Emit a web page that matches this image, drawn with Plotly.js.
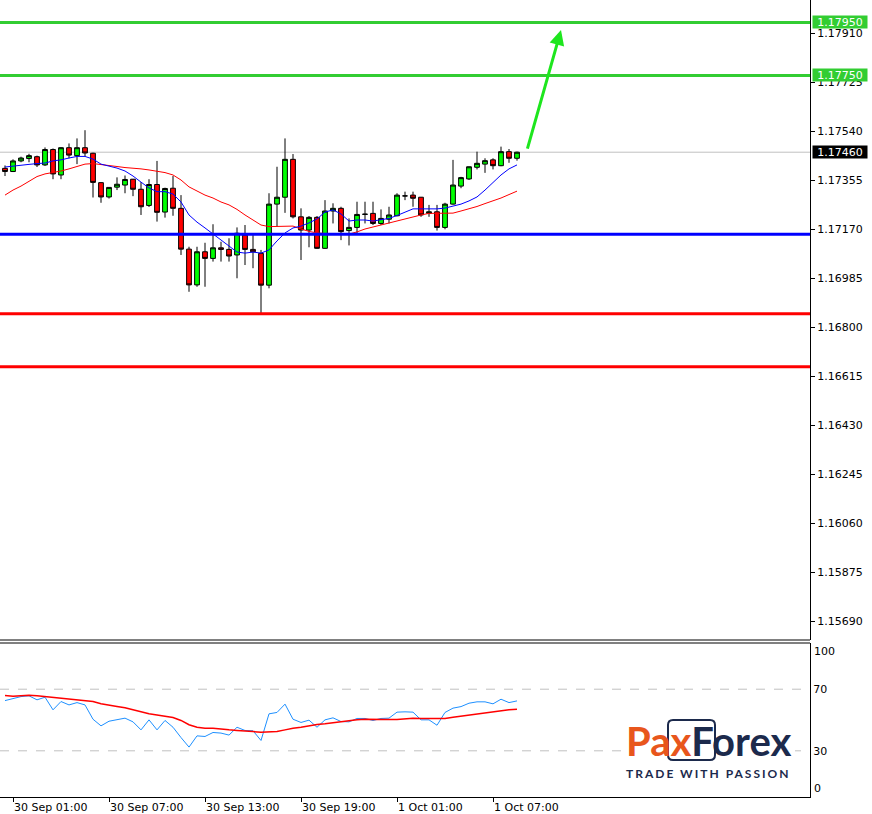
<!DOCTYPE html>
<html><head><meta charset="utf-8">
<script src="https://cdn.plot.ly/plotly-3.0.1.min.js"></script>
<style>html,body{margin:0;padding:0;background:#fff;overflow:hidden}#chart{width:872px;height:814px}</style>
</head><body><div id="chart"></div>
<script>
// ---- EURUSD M30 candles (30 Sep 00:30 .. 1 Oct 08:30) ----
const open = [
1.17399,1.17387,1.17427,1.17436,1.17443,1.17412,1.17470,1.17374,1.17477,1.17447,
1.17477,1.17456,1.17345,1.17291,1.17328,1.17336,1.17358,1.17320,1.17259,1.17338,
1.17234,1.17324,1.17248,1.17094,1.16959,1.17084,1.17059,1.17099,1.17093,1.17072,
1.17147,1.17093,1.17078,1.16958,1.17264,1.17290,1.17433,1.17216,1.17166,1.17214,
1.17097,1.17238,1.17248,1.17164,1.17176,1.17225,1.17229,1.17191,1.17207,1.17220,
1.17295,1.17298,1.17290,1.17229,1.17235,1.17176,1.17264,1.17332,1.17359,1.17403,
1.17415,1.17431,1.17409,1.17462,1.17437];
const high = [
1.17410,1.17433,1.17443,1.17454,1.17447,1.17478,1.17474,1.17479,1.17493,1.17512,
1.17543,1.17458,1.17347,1.17328,1.17365,1.17372,1.17359,1.17347,1.17358,1.17427,
1.17326,1.17370,1.17298,1.17103,1.17103,1.17118,1.17188,1.17122,1.17135,1.17176,
1.17185,1.17150,1.17091,1.17305,1.17405,1.17512,1.17453,1.17248,1.17219,1.17219,
1.17279,1.17267,1.17254,1.17210,1.17273,1.17273,1.17273,1.17244,1.17254,1.17305,
1.17311,1.17311,1.17291,1.17261,1.17261,1.17269,1.17431,1.17367,1.17406,1.17462,
1.17437,1.17437,1.17481,1.17472,1.17462];
const low = [
1.17370,1.17385,1.17422,1.17422,1.17404,1.17408,1.17358,1.17358,1.17437,1.17415,
1.17444,1.17289,1.17269,1.17285,1.17317,1.17305,1.17294,1.17223,1.17253,1.17198,
1.17213,1.17220,1.17072,1.16933,1.16952,1.16952,1.17047,1.17047,1.17047,1.16984,
1.17034,1.17022,1.16849,1.16946,1.17179,1.17231,1.17210,1.17053,1.17101,1.17095,
1.17095,1.17191,1.17128,1.17108,1.17154,1.17191,1.17185,1.17185,1.17191,1.17218,
1.17279,1.17254,1.17216,1.17216,1.17164,1.17169,1.17262,1.17324,1.17355,1.17395,
1.17382,1.17395,1.17407,1.17420,1.17428];
const close = [
1.17387,1.17427,1.17438,1.17447,1.17412,1.17470,1.17378,1.17477,1.17449,1.17477,
1.17457,1.17346,1.17291,1.17327,1.17339,1.17357,1.17320,1.17254,1.17338,1.17233,
1.17323,1.17248,1.17094,1.16959,1.17084,1.17059,1.17099,1.17093,1.17068,1.17154,
1.17093,1.17084,1.16958,1.17264,1.17290,1.17433,1.17216,1.17166,1.17214,1.17097,
1.17238,1.17248,1.17160,1.17176,1.17225,1.17226,1.17191,1.17210,1.17223,1.17298,
1.17295,1.17286,1.17223,1.17235,1.17176,1.17264,1.17336,1.17364,1.17405,1.17418,
1.17428,1.17409,1.17462,1.17437,1.17460];
// fast (blue) and slow (red) moving averages
const maFast = [
1.17404,1.17408,1.17412,1.17414,1.17417,1.17419,1.17427,1.17431,1.17438,1.17444,
1.17444,1.17434,1.17415,1.17408,1.17400,1.17389,1.17370,1.17347,1.17325,1.17311,
1.17311,1.17302,1.17272,1.17223,1.17196,1.17174,1.17151,1.17128,1.17106,1.17083,
1.17079,1.17083,1.17079,1.17091,1.17125,1.17155,1.17174,1.17181,1.17193,1.17208,
1.17234,1.17242,1.17227,1.17200,1.17204,1.17204,1.17200,1.17204,1.17210,1.17221,
1.17234,1.17246,1.17246,1.17246,1.17246,1.17249,1.17257,1.17264,1.17276,1.17291,
1.17317,1.17344,1.17374,1.17397,1.17412];
const maSlow = [
1.17298,1.17317,1.17332,1.17351,1.17368,1.17378,1.17383,1.17389,1.17397,1.17406,
1.17415,1.17417,1.17414,1.17410,1.17406,1.17402,1.17400,1.17397,1.17393,1.17387,
1.17383,1.17374,1.17355,1.17329,1.17313,1.17298,1.17287,1.17272,1.17261,1.17244,
1.17223,1.17204,1.17185,1.17179,1.17179,1.17181,1.17181,1.17170,1.17161,1.17155,
1.17153,1.17151,1.17150,1.17151,1.17159,1.17170,1.17178,1.17185,1.17193,1.17200,
1.17208,1.17215,1.17223,1.17229,1.17230,1.17230,1.17230,1.17238,1.17246,1.17255,
1.17266,1.17276,1.17287,1.17300,1.17313];
// oscillator (lower panel)
const osc = [
62.6,64.1,65.2,65.7,63.1,64.8,56.6,62.0,59.8,61.3,
59.8,50.5,46.2,49.2,50.1,51.2,48.8,43.6,50.1,43.6,
49.7,45.3,38.6,32.4,39.7,39.3,41.9,41.5,40.2,45.3,
43.2,43.0,36.7,54.0,54.9,60.3,50.5,48.4,49.9,45.3,
50.1,51.4,49.0,48.8,51.0,51.0,49.7,51.0,51.2,55.1,
55.3,55.1,50.1,50.1,46.6,54.9,57.7,58.7,60.9,61.8,
61.8,60.5,63.5,61.3,62.4];
const oscSignal = [
65.9,65.4,65.7,66.1,65.7,65.2,64.8,63.9,63.5,63.1,
62.8,62.0,60.5,59.4,58.7,57.9,56.6,54.9,54.0,53.3,
52.5,51.6,49.7,46.9,45.3,44.7,44.7,44.0,43.6,43.2,
43.0,42.5,42.1,42.1,42.5,43.6,44.7,45.3,46.4,47.1,
47.5,48.2,48.8,49.4,50.1,50.5,50.3,50.5,50.3,50.3,
50.7,51.2,51.0,51.0,51.0,51.0,51.8,52.5,53.1,54.0,
54.6,55.5,56.1,56.6,57.0];
const oscLevels = [70, 30];
// horizontal levels
const resistLevels = [1.17950, 1.17750];
const pivotLevels = [1.17150];
const supportLevels = [1.16850, 1.16650];
const lastPrice = 1.17460;
// forecast arrow: [bar index, price] tail and head
const arrowFrom = [65.25, 1.17468];
const arrowTo = [69.5, 1.17921];
// axis ticks
const priceTicks = [1.15690,1.15875,1.16060,1.16245,1.16430,1.16615,1.16800,1.16985,1.17170,1.17355,1.17540,1.17725,1.17910];
const timeTickIdx = [1, 13, 25, 37, 49, 61];
const timeTickText = ['30 Sep 01:00','30 Sep 07:00','30 Sep 13:00','30 Sep 19:00','1 Oct 01:00','1 Oct 07:00'];
const oscTicks = [30, 70];

// ---- layout geometry ----
const PW = 810, PH = 797;
const px = p => p / PW;
const py = p => 1 - p / PH;
const FONT = 'DejaVu Sans';
const xs = open.map((_, i) => i);

const traces = [
  {type:'candlestick', x:xs, open:open, high:high, low:low, close:close, xaxis:'x', yaxis:'y',
   increasing:{line:{color:'#000', width:1}, fillcolor:'#00FF00'},
   decreasing:{line:{color:'#000', width:1}, fillcolor:'#FF0000'},
   whiskerwidth:0, hoverinfo:'skip', showlegend:false},
  {type:'scatter', mode:'lines', x:xs, y:maSlow, line:{color:'#FF0000', width:1}, xaxis:'x', yaxis:'y', hoverinfo:'skip'},
  {type:'scatter', mode:'lines', x:xs, y:maFast, line:{color:'#0000FF', width:1}, xaxis:'x', yaxis:'y', hoverinfo:'skip'},
  {type:'scatter', mode:'lines', x:xs, y:osc, line:{color:'#1E90FF', width:1}, xaxis:'x', yaxis:'y2', hoverinfo:'skip'},
  {type:'scatter', mode:'lines', x:xs, y:oscSignal, line:{color:'#FF0000', width:1.5}, xaxis:'x', yaxis:'y2', hoverinfo:'skip'}
];

const shapes = [];
shapes.push({type:'line', xref:'paper', x0:0, x1:1, yref:'y', y0:lastPrice, y1:lastPrice, line:{color:'#C0C0C0', width:1}, layer:'below'});
resistLevels.forEach(v => shapes.push({type:'line', xref:'paper', x0:0, x1:1, yref:'y', y0:v, y1:v, line:{color:'#32CD32', width:3}, layer:'above'}));
pivotLevels.forEach(v => shapes.push({type:'line', xref:'paper', x0:0, x1:1, yref:'y', y0:v, y1:v, line:{color:'#0000FF', width:3}, layer:'above'}));
supportLevels.forEach(v => shapes.push({type:'line', xref:'paper', x0:0, x1:1, yref:'y', y0:v, y1:v, line:{color:'#FF0000', width:3}, layer:'above'}));
oscLevels.forEach(v => shapes.push({type:'line', xref:'paper', x0:0, x1:1, yref:'y2', y0:v, y1:v, line:{color:'#C0C0C0', width:1, dash:'dash'}, layer:'below'}));
shapes.push({type:'line', xref:'paper', yref:'paper', x0:0, x1:1, y0:py(640), y1:py(640), line:{color:'#000', width:1}});
shapes.push({type:'line', xref:'paper', yref:'paper', x0:0, x1:1, y0:py(643), y1:py(643), line:{color:'#000', width:1}});
shapes.push({type:'rect', xref:'paper', yref:'paper', x0:px(621), x1:px(795), y0:py(786), y1:py(714), fillcolor:'#fff', line:{width:0}, layer:'above'});
(function(){
  const x0=668, x1=715, y0=720, y1=760, r=5;
  const P=(a,b)=>px(a)+','+py(b);
  const path = 'M'+P(x0+r,y0)+' L'+P(x1-r,y0)+' Q'+P(x1,y0)+' '+P(x1,y0+r)+' L'+P(x1,y1-r)+' Q'+P(x1,y1)+' '+P(x1-r,y1)+
    ' L'+P(x0+r,y1)+' Q'+P(x0,y1)+' '+P(x0,y1-r)+' L'+P(x0,y0+r)+' Q'+P(x0,y0)+' '+P(x0+r,y0)+' Z';
  shapes.push({type:'path', xref:'paper', yref:'paper', path:path, line:{color:'#1C2A4C', width:2}, layer:'above'});
})();

const annotations = [];
resistLevels.forEach(v => annotations.push({xref:'paper', x:1, xanchor:'left', xshift:2, yref:'y', y:v, yanchor:'middle',
  text:v.toFixed(5), showarrow:false, bgcolor:'#32CD32', font:{family:FONT, size:11, color:'#fff'}, width:54, height:12, borderpad:0, align:'center'}));
annotations.push({xref:'paper', x:1, xanchor:'left', xshift:2, yref:'y', y:lastPrice, yanchor:'middle',
  text:lastPrice.toFixed(5), showarrow:false, bgcolor:'#000', font:{family:FONT, size:11, color:'#fff'}, width:54, height:12, borderpad:0, align:'center'});
annotations.push({xref:'paper', x:1, xanchor:'left', xshift:2, yref:'y2', y:100, yanchor:'top', text:'100', showarrow:false, font:{family:FONT, size:11, color:'#000'}});
annotations.push({xref:'paper', x:1, xanchor:'left', xshift:2, yref:'y2', y:0, yanchor:'bottom', text:'0', showarrow:false, font:{family:FONT, size:11, color:'#000'}});
annotations.push({xref:'x', yref:'y', x:arrowTo[0], y:arrowTo[1], axref:'x', ayref:'y', ax:arrowFrom[0], ay:arrowFrom[1],
  text:'', showarrow:true, arrowhead:2, arrowsize:1, arrowwidth:3, arrowcolor:'#1EE61E'});
annotations.push({xref:'paper', yref:'paper', x:px(624), y:py(741), xanchor:'left', yanchor:'middle', showarrow:false,
  text:'<span style="color:#E8561C">Pax</span><span style="color:#1C2A4C">Forex</span>',
  font:{family:'Lato', size:40, weight:700}});
annotations.push({xref:'paper', yref:'paper', x:px(642), y:py(773), xanchor:'left', yanchor:'middle', showarrow:false,
  text:'TRADE WITH PASSION', font:{family:'Lato', size:12, weight:700, color:'#1C2A4C'}});

const layout = {
  width:872, height:814, margin:{l:0, r:62, t:0, b:17, pad:0},
  paper_bgcolor:'#fff', plot_bgcolor:'#fff', showlegend:false,
  font:{family:FONT, size:11, color:'#000'},
  xaxis:{anchor:'y2', domain:[0,1], range:[-0.625, 100.625], rangeslider:{visible:false},
    showgrid:false, zeroline:false, showline:true, linecolor:'#000', linewidth:1,
    tickmode:'array', tickvals:timeTickIdx, ticktext:timeTickText, ticks:'outside', ticklen:4, tickcolor:'#000',
    ticklabelposition:'outside right', tickfont:{family:FONT, size:11, color:'#000'}, automargin:false, fixedrange:true},
  yaxis:{domain:[py(640), 1], range:[1.156183, 1.180346], side:'right', showgrid:false, zeroline:false,
    showline:true, linecolor:'#000', linewidth:1, tickmode:'array', tickvals:priceTicks,
    ticktext:priceTicks.map(v => v.toFixed(5)), ticks:'outside', ticklen:4, tickcolor:'#000',
    tickfont:{family:FONT, size:11, color:'#000'}, automargin:false, fixedrange:true},
  yaxis2:{domain:[0, py(643)], range:[0, 100], side:'right', showgrid:false, zeroline:false,
    showline:true, linecolor:'#000', linewidth:1, tickmode:'array', tickvals:oscTicks,
    ticktext:oscTicks.map(String), ticks:'', tickfont:{family:FONT, size:11, color:'#000'}, automargin:false, fixedrange:true},
  boxgap:0.3, boxgroupgap:0.15,
  shapes:shapes, annotations:annotations
};

Plotly.newPlot('chart', traces, layout, {staticPlot:true, displayModeBar:false}).then(() => {
  document.querySelectorAll('.annotation-text').forEach(t => {
    if (t.textContent === 'TRADE WITH PASSION') t.style.letterSpacing = '2px';
  });
});
</script></body></html>
